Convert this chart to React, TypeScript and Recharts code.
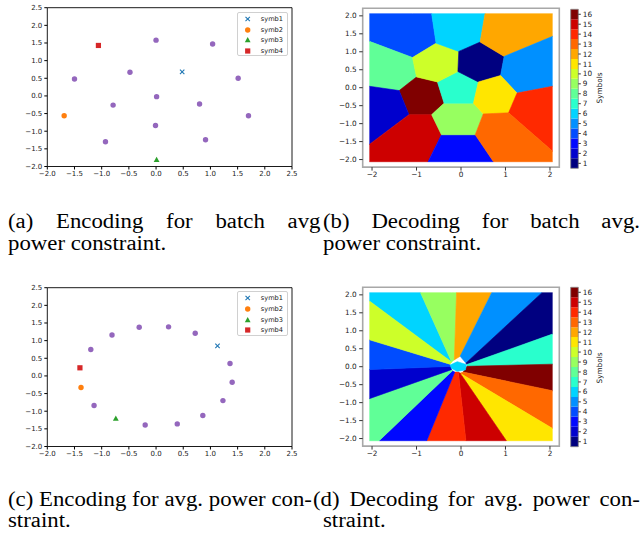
import React from "react";
import { ScatterChart, Scatter, XAxis, YAxis, ReferenceArea, ComposedChart, Area } from "recharts";

// ---- data ----
const ENC_TICKS = [-2, -1.5, -1, -0.5, 0, 0.5, 1, 1.5, 2, 2.5];
const DEC_X_TICKS = [-2, -1, 0, 1, 2];
const DEC_Y_TICKS = [-2, -1.5, -1, -0.5, 0, 0.5, 1, 1.5, 2];
const SYMBOL_LEVELS = [1, 2, 3, 4, 5, 6, 7, 8, 9, 10, 11, 12, 13, 14, 15, 16];
const SYMB_NAMES = ["symb1", "symb2", "symb3", "symb4"];

// (a) batch avg. power constraint
const ENC_A_OTHERS = [
  { x: 0.0, y: 1.58 }, { x: 1.04, y: 1.47 }, { x: -0.48, y: 0.67 }, { x: -1.5, y: 0.48 },
  { x: 1.51, y: 0.5 }, { x: 0.01, y: -0.02 }, { x: -0.79, y: -0.26 }, { x: 0.8, y: -0.23 },
  { x: 1.7, y: -0.56 }, { x: -0.01, y: -0.84 }, { x: -0.93, y: -1.3 }, { x: 0.91, y: -1.24 },
];
const ENC_A_SYMB = [
  { x: 0.48, y: 0.68 }, { x: -1.69, y: -0.56 }, { x: 0.01, y: -1.81 }, { x: -1.06, y: 1.43 },
];

// (c) avg. power constraint
const ENC_C_OTHERS = [
  { x: -0.31, y: 1.38 }, { x: 0.23, y: 1.39 }, { x: 0.72, y: 1.21 }, { x: -0.81, y: 1.16 },
  { x: -1.2, y: 0.75 }, { x: 1.36, y: 0.35 }, { x: 1.4, y: -0.18 }, { x: 1.23, y: -0.7 },
  { x: -1.14, y: -0.84 }, { x: 0.86, y: -1.12 }, { x: 0.39, y: -1.36 }, { x: -0.2, y: -1.39 },
];
const ENC_C_SYMB = [
  { x: 1.13, y: 0.85 }, { x: -1.38, y: -0.33 }, { x: -0.74, y: -1.21 }, { x: -1.4, y: 0.23 },
];

// (b) decision regions, polygon corners in data units
const DEC_B_REGIONS: { label: number; pts: number[][] }[] = [
  { label: 4, pts: [[-2.06, 2.06], [-0.66, 2.06], [-0.56, 1.24], [-1.09, 0.84], [-2.06, 1.29]] },
  { label: 8, pts: [[-2.06, 1.29], [-1.09, 0.84], [-1.0, 0.3], [-1.39, -0.08], [-2.06, 0.04]] },
  { label: 16, pts: [[-1.39, -0.08], [-1.0, 0.3], [-0.53, 0.16], [-0.38, -0.43], [-0.66, -0.75], [-1.17, -0.75]] },
  { label: 2, pts: [[-2.06, 0.04], [-1.39, -0.08], [-1.17, -0.75], [-2.06, -1.58]] },
  { label: 15, pts: [[-2.06, -1.58], [-1.17, -0.75], [-0.66, -0.75], [-0.44, -1.31], [-0.74, -2.06], [-2.06, -2.06]] },
  { label: 3, pts: [[-0.74, -2.06], [-0.44, -1.31], [0.32, -1.31], [0.73, -2.06]] },
  { label: 9, pts: [[-0.66, -0.75], [-0.38, -0.43], [0.28, -0.43], [0.5, -0.73], [0.32, -1.31], [-0.44, -1.31]] },
  { label: 7, pts: [[-0.53, 0.16], [-0.07, 0.45], [0.39, 0.16], [0.28, -0.43], [-0.38, -0.43]] },
  { label: 10, pts: [[-1.09, 0.84], [-0.56, 1.24], [-0.05, 1.01], [-0.07, 0.45], [-0.53, 0.16], [-1.0, 0.3]] },
  { label: 6, pts: [[-0.66, 2.06], [0.54, 2.06], [0.43, 1.27], [-0.05, 1.01], [-0.56, 1.24]] },
  { label: 1, pts: [[-0.05, 1.01], [0.43, 1.27], [0.97, 0.87], [0.89, 0.34], [0.39, 0.16], [-0.07, 0.45]] },
  { label: 12, pts: [[0.54, 2.06], [2.06, 2.06], [2.06, 1.43], [0.97, 0.87], [0.43, 1.27]] },
  { label: 5, pts: [[0.97, 0.87], [2.06, 1.43], [2.06, 0.04], [1.26, -0.15], [0.89, 0.34]] },
  { label: 11, pts: [[0.39, 0.16], [0.89, 0.34], [1.26, -0.15], [1.07, -0.7], [0.5, -0.73], [0.28, -0.43]] },
  { label: 14, pts: [[1.26, -0.15], [2.06, 0.04], [2.06, -1.77], [1.07, -0.7]] },
  { label: 13, pts: [[0.5, -0.73], [1.07, -0.7], [2.06, -1.77], [2.06, -2.06], [0.73, -2.06], [0.32, -1.31]] },
];

// (d) decision regions (wedges)
const DEC_D_REGIONS: { label: number; pts: number[][] }[] = [
  { label: 6, pts: [[-2.06, 2.06], [-0.91, 2.06], [-0.21, 0.13], [-2.06, 1.83]] },
  { label: 9, pts: [[-0.91, 2.06], [-0.1, 2.06], [-0.15, 0.19], [-0.21, 0.13]] },
  { label: 12, pts: [[-0.1, 2.06], [0.69, 2.06], [-0.02, 0.29], [-0.15, 0.19]] },
  { label: 5, pts: [[0.69, 2.06], [1.82, 2.06], [0.11, 0.1], [-0.02, 0.29]] },
  { label: 1, pts: [[1.82, 2.06], [2.06, 2.06], [2.06, 0.91], [0.13, 0.06], [0.11, 0.1]] },
  { label: 7, pts: [[0.13, 0.06], [2.06, 0.91], [2.06, 0.07], [0.13, 0.01]] },
  { label: 16, pts: [[0.13, 0.01], [2.06, 0.07], [2.06, -0.67], [0.05, -0.15]] },
  { label: 13, pts: [[0.05, -0.15], [2.06, -0.67], [2.06, -1.72], [-0.02, -0.18]] },
  { label: 11, pts: [[-0.02, -0.18], [2.06, -1.72], [2.06, -2.06], [1.02, -2.06]] },
  { label: 15, pts: [[-0.06, -0.15], [-0.02, -0.18], [1.02, -2.06], [0.11, -2.06]] },
  { label: 14, pts: [[-0.14, -0.15], [-0.06, -0.15], [0.11, -2.06], [-0.77, -2.06]] },
  { label: 3, pts: [[-0.19, -0.11], [-0.14, -0.15], [-0.77, -2.06], [-1.84, -2.06]] },
  { label: 8, pts: [[-0.21, -0.08], [-0.19, -0.11], [-1.84, -2.06], [-2.06, -2.06], [-2.06, -0.89]] },
  { label: 2, pts: [[-2.06, -0.08], [-0.23, 0.01], [-0.21, -0.08], [-2.06, -0.89]] },
  { label: 4, pts: [[-2.06, 0.75], [-0.25, 0.07], [-0.23, 0.01], [-2.06, -0.08]] },
  { label: 10, pts: [[-2.06, 1.83], [-0.21, 0.13], [-0.25, 0.07], [-2.06, 0.75]] },
  { label: 6, pts: [[-0.24, 0.05], [-0.08, 0.14], [0.12, 0.06], [0.1, -0.09], [-0.09, -0.13], [-0.22, -0.04]] },
];

// ---- styling ----
const JET16 = [
  "#000080", "#0000cd", "#0008ff", "#004cff", "#0090ff", "#00d4ff", "#29ffcd", "#60ff97",
  "#97ff60", "#cdff29", "#ffe600", "#ffa700", "#ff6800", "#ff2900", "#cd0000", "#800000",
];
const PURPLE = "#9467bd";
const SYMB_COLORS = ["#1f77b4", "#ff7f0e", "#2ca02c", "#d62728"];
const FONT = "'DejaVu Sans', sans-serif";
const SERIF = "'Liberation Serif', 'Times New Roman', serif";

const signed = (s: string, v: number) => (v < 0 ? "\u2212" : "") + s;
const fmt1 = (v: number) => signed(Math.abs(v).toFixed(1), v);
const fmt0 = (v: number) => signed(Math.abs(v).toFixed(0), v);

// convex polygon -> range-area rows (lower/upper edge at each corner x)
function toBand(pts: number[][]) {
  const xs = Array.from(new Set(pts.map((p) => p[0]))).sort((a, b) => a - b);
  return xs.map((x) => {
    const ys: number[] = [];
    for (let i = 0; i < pts.length; i++) {
      const [x1, y1] = pts[i];
      const [x2, y2] = pts[(i + 1) % pts.length];
      if ((x1 <= x && x <= x2) || (x2 <= x && x <= x1)) {
        if (x1 === x2) ys.push(y1, y2);
        else ys.push(y1 + ((y2 - y1) * (x - x1)) / (x2 - x1));
      }
    }
    return { x, band: [Math.min(...ys), Math.max(...ys)] };
  });
}

function Marker({ kind, cx, cy }: { kind: number; cx: number; cy: number }) {
  const c = SYMB_COLORS[kind];
  if (kind === 0)
    return (
      <g stroke={c} strokeWidth={1.1}>
        <line x1={cx - 2.2} y1={cy - 2.2} x2={cx + 2.2} y2={cy + 2.2} />
        <line x1={cx - 2.2} y1={cy + 2.2} x2={cx + 2.2} y2={cy - 2.2} />
      </g>
    );
  if (kind === 1) return <circle cx={cx} cy={cy} r={2.7} fill={c} />;
  if (kind === 2)
    return <polygon points={`${cx},${cy - 3} ${cx - 2.9},${cy + 2.2} ${cx + 2.9},${cy + 2.2}`} fill={c} />;
  return <rect x={cx - 2.6} y={cy - 2.6} width={5.2} height={5.2} fill={c} />;
}

function EncodingPanel({ top, others, symbs }: { top: number; others: { x: number; y: number }[]; symbs: { x: number; y: number }[] }) {
  const tick = { fontSize: 7, fill: "#222", fontFamily: FONT };
  return (
    <div style={{ position: "absolute", left: 0, top, width: 300, height: 185 }}>
      <ScatterChart width={300} height={185} margin={{ top: 7.7, right: 8, bottom: 0, left: 0 }}>
        <XAxis type="number" dataKey="x" domain={[-2, 2.5]} ticks={ENC_TICKS} interval={0} tickFormatter={fmt1}
          tick={tick} tickSize={3} tickMargin={1.5} axisLine={false} tickLine={{ stroke: "#000" }} height={18.5} allowDataOverflow />
        <YAxis type="number" dataKey="y" domain={[-2, 2.5]} ticks={ENC_TICKS} interval={0} tickFormatter={fmt1}
          tick={tick} tickSize={3} tickMargin={2} axisLine={false} tickLine={{ stroke: "#000" }} width={47.3} allowDataOverflow />
        <ReferenceArea x1={-2} x2={2.5} y1={-2} y2={2.5} fill="none" stroke="#000" strokeWidth={0.9} ifOverflow="visible" />
        <Scatter data={others} isAnimationActive={false}
          shape={(p: any) => <circle cx={p.cx} cy={p.cy} r={2.7} fill={PURPLE} />} />
        {symbs.map((s, i) => (
          <Scatter key={i} data={[s]} isAnimationActive={false}
            shape={(p: any) => <Marker kind={i} cx={p.cx} cy={p.cy} />} />
        ))}
      </ScatterChart>
      <div style={{ position: "absolute", left: 237.3, top: 11.8, width: 50.5, height: 44.5, background: "#fff",
        border: "0.8px solid #d0d0d0", borderRadius: 2, boxSizing: "border-box" }}>
        {SYMB_NAMES.map((n, i) => (
          <div key={n} style={{ position: "absolute", left: 0, top: 1.2 + i * 10.6, height: 10, width: 50 }}>
            <svg width={20} height={10} style={{ position: "absolute", left: 0, top: 0 }}>
              <Marker kind={i} cx={9.7} cy={5} />
            </svg>
            <span style={{ position: "absolute", left: 22.5, top: 0, fontSize: 6.6, lineHeight: "10px",
              fontFamily: FONT, color: "#222" }}>{n}</span>
          </div>
        ))}
      </div>
    </div>
  );
}

function DecodingPanel({ top, regions }: { top: number; regions: { label: number; pts: number[][] }[] }) {
  const tick = { fontSize: 7.3, fill: "#222", fontFamily: FONT };
  return (
    <div style={{ position: "absolute", left: 310, top, width: 255, height: 185 }}>
      <ComposedChart width={255} height={185} margin={{ top: 8.3, right: 5.7, bottom: 0, left: 0 }}>
        <XAxis type="number" dataKey="x" domain={[-2.21, 2.21]} ticks={DEC_X_TICKS} interval={0} tickFormatter={fmt0}
          tick={tick} tickSize={3.5} tickMargin={1.5} axisLine={false} tickLine={{ stroke: "#333" }} height={17.9} allowDataOverflow />
        <YAxis type="number" domain={[-2.21, 2.21]} ticks={DEC_Y_TICKS} interval={0} tickFormatter={fmt1}
          tick={tick} tickSize={3.5} tickMargin={2.5} axisLine={false} tickLine={{ stroke: "#333" }} width={52.7} allowDataOverflow />
        {regions.map((r, i) => (
          <Area key={i} data={toBand(r.pts)} dataKey="band" type="linear" fill={JET16[r.label - 1]} fillOpacity={1}
            stroke={JET16[r.label - 1]} strokeWidth={0.6} dot={false} activeDot={false} isAnimationActive={false} />
        ))}
        <ReferenceArea x1={-2.21} x2={2.21} y1={-2.21} y2={2.21} fill="none" stroke="#a8a8a8" strokeWidth={1.6} ifOverflow="visible" />
      </ComposedChart>
    </div>
  );
}

function ColorBar({ top, barTop, barBottom }: { top: number; barTop: number; barBottom: number }) {
  const tick = { fontSize: 7.3, fill: "#222", fontFamily: FONT };
  return (
    <div style={{ position: "absolute", left: 560, top, width: 80, height: 176 }}>
      <ComposedChart width={80} height={176} data={SYMBOL_LEVELS.map((l) => ({ x: 0.5, l }))}
        margin={{ top: barTop, right: 21.7, bottom: 176 - barBottom, left: 10.7 }}>
        <XAxis type="number" dataKey="x" domain={[0, 1]} hide />
        <YAxis type="number" orientation="right" domain={[0.5, 16.5]} ticks={SYMBOL_LEVELS} interval={0}
          tick={tick} tickSize={2.5} tickMargin={2} axisLine={false} tickLine={{ stroke: "#333" }} width={40} allowDataOverflow />
        {SYMBOL_LEVELS.map((l) => (
          <ReferenceArea key={l} x1={0} x2={1} y1={l - 0.5} y2={l + 0.5} fill={JET16[l - 1]} fillOpacity={1} stroke="none" />
        ))}
        <ReferenceArea x1={0} x2={1} y1={0.5} y2={16.5} fill="none" stroke="#888" strokeWidth={0.8} ifOverflow="visible" />
      </ComposedChart>
      <div style={{ position: "absolute", left: 39.3, top: 88, transform: "translate(-50%, -50%) rotate(-90deg)",
        fontSize: 7.3, fontFamily: FONT, color: "#222", whiteSpace: "nowrap" }}>Symbols</div>
    </div>
  );
}

// caption text in the figure is slightly wide for its height
const STRETCH = 1.14;
const CAP = {
  fontFamily: SERIF, fontSize: 20, lineHeight: "20px", color: "#000", whiteSpace: "nowrap" as const,
  transform: `scaleX(${STRETCH})`, transformOrigin: "0 0",
};

function Justified({ left, top, width, words }: { left: number; top: number; width: number; words: string[] }) {
  return (
    <div style={{ position: "absolute", left, top, width: width / STRETCH, display: "flex", justifyContent: "space-between", ...CAP }}>
      {words.map((w, i) => <span key={i}>{w}</span>)}
    </div>
  );
}

function Plain({ left, top, text }: { left: number; top: number; text: string }) {
  return <div style={{ position: "absolute", left, top, ...CAP }}>{text}</div>;
}

export default function App() {
  return (
    <div style={{ position: "absolute", left: 0, top: 0, width: 641, height: 540, background: "#fff", overflow: "hidden" }}>
      <EncodingPanel top={0} others={ENC_A_OTHERS} symbs={ENC_A_SYMB} />
      <DecodingPanel top={0} regions={DEC_B_REGIONS} />
      <ColorBar top={0} barTop={9.3} barBottom={168.3} />
      <EncodingPanel top={279.5} others={ENC_C_OTHERS} symbs={ENC_C_SYMB} />
      <DecodingPanel top={279} regions={DEC_D_REGIONS} />
      <ColorBar top={280} barTop={7.3} barBottom={166.7} />

      <Justified left={8} top={211.3} width={312.5} words={["(a)", "Encoding", "for", "batch", "avg"]} />
      <Justified left={323} top={211.3} width={317} words={["(b)", "Decoding", "for", "batch", "avg."]} />
      <Plain left={8} top={233.3} text="power constraint." />
      <Plain left={323} top={233.3} text="power constraint." />

      <Justified left={8} top={489.3} width={304} words={["(c)", "Encoding", "for", "avg.", "power", "con-"]} />
      <Justified left={313} top={489.3} width={327} words={["(d)", "Decoding", "for", "avg.", "power", "con-"]} />
      <Plain left={8} top={510.3} text="straint." />
      <Plain left={323} top={510.3} text="straint." />
    </div>
  );
}
